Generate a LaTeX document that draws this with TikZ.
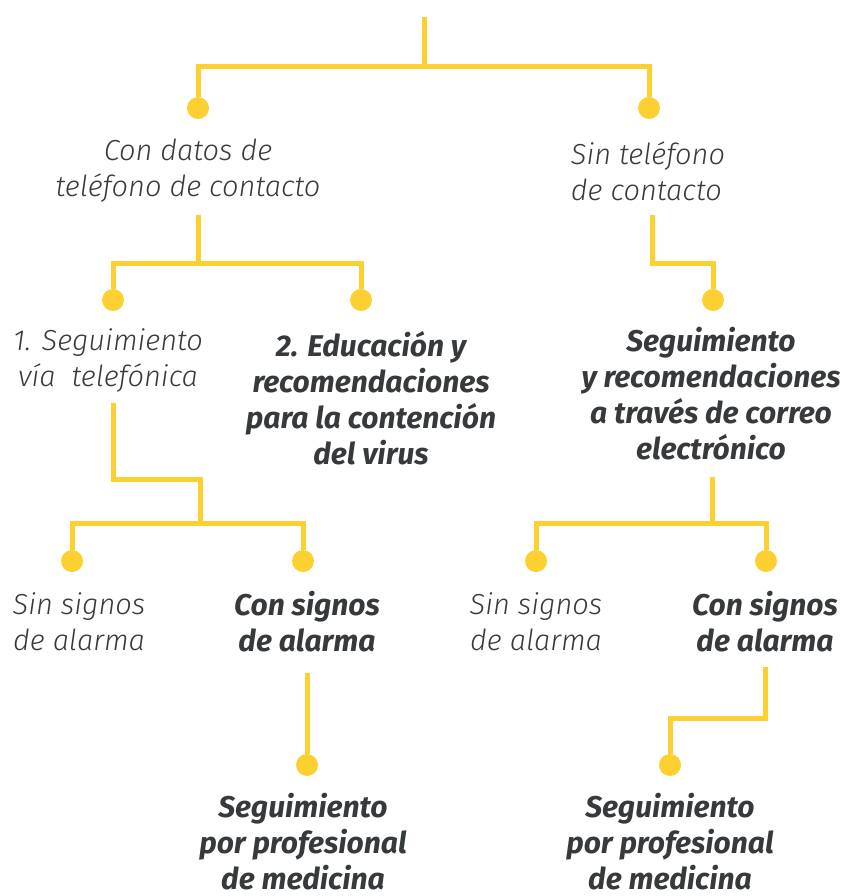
\documentclass[tikz,border=0pt]{standalone}
\usepackage{fontspec}
\setmainfont{Fira Sans}[ItalicFont={Fira Sans Light Italic},BoldItalicFont={Fira Sans Bold Italic}]
\usepackage{tikz}
\definecolor{amarillo}{RGB}{253,208,50}
\definecolor{texto}{RGB}{55,58,61}

\begin{document}
\begin{tikzpicture}[x=1pt,y=-1pt,font=\fontsize{29}{36}\selectfont\itshape,text=texto]
    \tikzstyle{dot}=[circle,fill=amarillo,inner sep=0,minimum size=22]
    \tikzstyle{branch}=[draw=amarillo,line width=5,line join=miter]
    \tikzstyle{plain}=[align=center,inner sep=0]
    \tikzstyle{strong}=[align=center,inner sep=0,font=\fontsize{30}{36}\selectfont\bfseries\itshape]

    \useasboundingbox (0,0) rectangle (847,896);

    % level 1
    \coordinate(top) at (424,17);
    \coordinate(j1) at (424,67);
    \node(d1)[dot] at (198,108){};
    \node(d2)[dot] at (649,108){};
    \draw[branch] (top) -- (j1);
    \draw[branch] (d1) |- (j1) -| (d2);
    \node(t1)[plain] at (188,171){Con datos de\\teléfono de contacto};
    \node(t2)[plain,align=left] at (648,171){Sin teléfono\\de contacto};

    % level 2
    \coordinate(s1) at (198,215);
    \coordinate(j2) at (198,263);
    \node(d3)[dot] at (113,300){};
    \node(d4)[dot] at (361,300){};
    \draw[branch] (s1) -- (j2);
    \draw[branch] (d3) |- (j2) -| (d4);
    \coordinate(s2) at (652,215);
    \node(d5)[dot] at (713,300){};
    \draw[branch] (s2) -- ++(0,48) -| (d5);
    \node(t3)[plain] at (108,361){1. Seguimiento\\vía\ \ telefónica};
    \node(t4)[strong] at (371,398){2. Educación y\\recomendaciones\\para la contención\\del virus};
    \node(t5)[strong] at (711,394){Seguimiento\\y recomendaciones\\a través de correo\\electrónico};

    % level 3
    \coordinate(s3) at (113,403);
    \coordinate(j3) at (200,523);
    \node(d6)[dot] at (72,561){};
    \node(d7)[dot] at (303,561){};
    \draw[branch] (s3) -- ++(0,76) -| (j3);
    \draw[branch] (d6) |- (j3) -| (d7);
    \coordinate(s4) at (712,477);
    \coordinate(j4) at (712,523);
    \node(d8)[dot] at (536,561){};
    \node(d9)[dot] at (766,561){};
    \draw[branch] (s4) -- (j4);
    \draw[branch] (d8) |- (j4) -| (d9);
    \node(t6)[plain] at (79,622){Sin signos\\de alarma};
    \node(t7)[strong] at (307,622){Con signos\\de alarma};
    \node(t8)[plain] at (536,622){Sin signos\\de alarma};
    \node(t9)[strong] at (765,622){Con signos\\de alarma};

    % level 4
    \coordinate(s5) at (307,673);
    \node(d10)[dot] at (307,765){};
    \draw[branch] (s5) -- (d10);
    \coordinate(s6) at (765,667);
    \node(d11)[dot] at (670,765){};
    \draw[branch] (s6) -- ++(0,51) -| (d11);
    \node(t10)[strong] at (303,842){Seguimiento\\por profesional\\de medicina};
    \node(t11)[strong] at (670,842){Seguimiento\\por profesional\\de medicina};
\end{tikzpicture}
\end{document}
